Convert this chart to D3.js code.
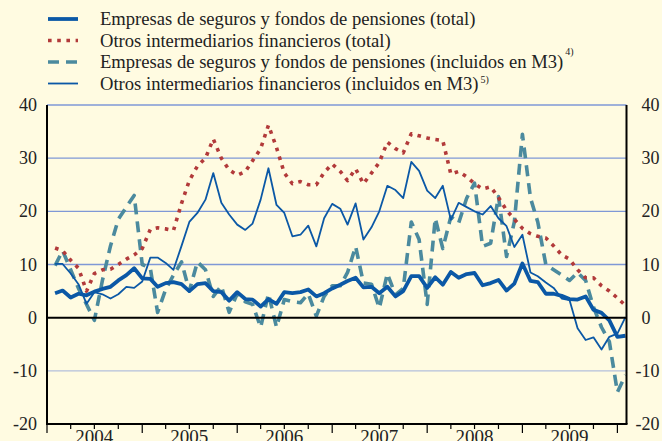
<!DOCTYPE html>
<html>
<head>
<meta charset="utf-8">
<script src="https://cdn.jsdelivr.net/npm/d3@7"></script>
<style>
  body { margin: 0; background: #fffbe1; }
  svg { display: block; font-family: "Liberation Serif", "Times New Roman", serif; }
</style>
</head>
<body>
<svg id="chart" width="662" height="441"></svg>
<script>
// monthly observations, Jan 2004 - Jan 2010 (plotted at month end)
var months = d3.timeMonth.range(new Date(2004, 1, 1), new Date(2010, 1, 2));

// Empresas de seguros y fondos de pensiones (total)
var icpfTotal = [4.6, 5.1, 3.8, 4.5, 4.2, 4.9, 5.4, 5.8, 7.0, 8.0, 9.3, 7.4,
  7.3, 5.8, 6.5, 6.7, 6.3, 5.0, 6.3, 6.5, 5.0, 4.8, 3.2, 4.8,
  3.5, 3.4, 2.1, 3.5, 2.6, 4.8, 4.6, 4.8, 5.3, 4.0, 4.6, 5.5,
  6.2, 6.9, 7.5, 5.7, 5.8, 4.6, 5.8, 4.0, 5.0, 7.8, 7.8, 5.6,
  7.6, 6.2, 8.6, 7.5, 8.2, 8.4, 6.1, 6.5, 7.1, 5.1, 6.4, 10.2,
  6.9, 6.7, 4.5, 4.5, 4.1, 3.5, 3.4, 4.0, 1.5, 0.9, -0.5, -3.6, -3.4];

// Otros intermediarios financieros (total)
var ofiTotal = [13.1, 12.6, 10.8, 9.3, 5.0, 8.3, 9.0, 9.1, 10.0, 11.0, 11.8, 13.0,
  16.6, 16.9, 16.7, 16.4, 21.5, 25.8, 28.5, 30.0, 33.6, 30.0, 27.8, 26.8,
  27.5, 29.5, 31.8, 36.2, 32.0, 27.2, 25.2, 25.6, 25.0, 25.0, 27.3, 28.9,
  27.5, 25.8, 28.0, 25.2, 27.2, 29.2, 33.0, 31.8, 31.0, 34.6, 34.2, 33.8,
  33.5, 33.3, 27.0, 27.5, 26.5, 25.2, 24.2, 24.6, 22.6, 20.2, 18.5, 16.8,
  15.8, 15.3, 15.0, 13.5, 11.8, 11.0, 9.0, 7.5, 7.5, 6.0, 5.0, 3.7, 2.3];

// Empresas de seguros y fondos de pensiones (incluidos en M3)
var icpfM3 = [9.8, 12.6, 9.0, 5.5, 2.5, -0.5, 7.0, 13.5, 18.5, 20.8, 23.0, 10.0,
  9.3, 1.0, 5.3, 8.0, 10.5, 5.0, 10.5, 9.0, 4.0, 6.0, 1.0, 4.5,
  3.0, 2.5, -1.8, 4.5, -1.8, 3.4, 3.0, 2.8, 4.5, 0.3, 4.0, 6.0,
  6.0, 8.5, 13.4, 6.5, 6.3, 1.8, 8.3, 4.3, 5.5, 18.0, 14.7, 2.5,
  18.7, 13.0, 19.0, 17.8, 22.5, 25.3, 13.4, 14.0, 22.8, 11.5, 18.0, 34.5,
  22.5, 18.0, 10.0, 9.0, 8.0, 7.0, 8.5, 7.0, 2.0, -1.8, -4.5, -14.0, -10.8];

// Otros intermediarios financieros (incluidos en M3)
var ofiM3 = [10.1, 10.1, 8.3, 6.3, 2.6, 4.8, 4.4, 3.6, 4.4, 5.8, 5.6, 6.8,
  11.3, 11.3, 10.3, 9.0, 13.5, 18.0, 19.7, 22.2, 27.2, 21.6, 19.4, 17.5,
  16.5, 17.7, 22.2, 28.1, 21.2, 19.7, 15.3, 15.6, 17.3, 13.4, 18.7, 21.4,
  20.5, 17.5, 21.5, 14.7, 17.0, 20.0, 24.8, 24.0, 22.5, 29.3, 27.6, 23.9,
  22.5, 24.8, 18.4, 21.6, 20.8, 20.0, 19.4, 21.0, 18.7, 17.2, 13.3, 15.6,
  8.5, 7.8, 6.6, 5.6, 3.6, 3.3, -2.0, -4.2, -3.7, -6.0, -3.6, -3.0, 0.1];

var yTicks = [40, 30, 20, 10, 0, -10, -20];
var yearLabels = ["2004", "2005", "2006", "2007", "2008", "2009"];
var legendLabels = [
  "Empresas de seguros y fondos de pensiones (total)",
  "Otros intermediarios financieros (total)",
  "Empresas de seguros y fondos de pensiones (incluidos en M3)",
  "Otros intermediarios financieros (incluidos en M3)"
];
var legendNotes = ["", "", "4)", "5)"];

var series = [
  { values: icpfM3, color: "#4b8a9e", width: 3.6, dash: "11,7" },
  { values: ofiTotal, color: "#b23a3a", width: 3.6, dash: "3.6,5.6" },
  { values: ofiM3, color: "#0b58a6", width: 1.8, dash: null },
  { values: icpfTotal, color: "#0b58a6", width: 3.8, dash: null }
];
var legendOrder = [3, 1, 0, 2];

var svg = d3.select("#chart");
var plotLeft = 47, plotRight = 626.5, plotTop = 105, plotBottom = 424;

var x = d3.scaleTime()
  .domain([new Date(2004, 0, 1), new Date(2010, 1, 5)])
  .range([plotLeft, plotRight]);
var y = d3.scaleLinear().domain([-20, 40]).range([plotBottom, plotTop]);

// background
svg.append("rect").attr("width", 662).attr("height", 441).attr("fill", "#fffbe1");

// grid
svg.selectAll(".grid")
  .data(yTicks.filter(function (d) { return d !== 0 && d !== -20; }))
  .enter().append("line")
  .attr("class", "grid")
  .attr("x1", plotLeft).attr("x2", plotRight)
  .attr("y1", function (d) { return y(d); })
  .attr("y2", function (d) { return y(d); })
  .attr("stroke", function (d) { return d > 0 ? "#7f98d6" : "#b3bfdb"; })
  .attr("stroke-width", 1.3);

// series
var line = d3.line()
  .x(function (d, i) { return x(months[i]); })
  .y(function (d) { return y(d); });

series.forEach(function (s) {
  svg.append("path")
    .datum(s.values)
    .attr("d", line)
    .attr("fill", "none")
    .attr("stroke", s.color)
    .attr("stroke-width", s.width)
    .attr("stroke-linejoin", "round")
    .attr("stroke-dasharray", s.dash);
});

// axes frame
svg.append("line").attr("x1", plotLeft).attr("x2", plotRight)
  .attr("y1", y(0)).attr("y2", y(0)).attr("stroke", "#000").attr("stroke-width", 2);
svg.append("line").attr("x1", plotLeft - 1).attr("x2", plotRight + 1)
  .attr("y1", plotBottom).attr("y2", plotBottom).attr("stroke", "#000").attr("stroke-width", 2);
svg.append("line").attr("x1", plotLeft).attr("x2", plotLeft)
  .attr("y1", plotTop).attr("y2", plotBottom).attr("stroke", "#000").attr("stroke-width", 2);
svg.append("line").attr("x1", plotRight).attr("x2", plotRight)
  .attr("y1", plotTop).attr("y2", plotBottom).attr("stroke", "#000").attr("stroke-width", 2);

// x ticks (quarters, longer at year start)
var quarters = d3.timeMonth.every(3).range(new Date(2004, 0, 1), new Date(2010, 0, 2));
svg.selectAll(".xtick")
  .data(quarters).enter().append("line")
  .attr("x1", function (d) { return x(d); })
  .attr("x2", function (d) { return x(d); })
  .attr("y1", plotBottom)
  .attr("y2", function (d) { return plotBottom + (d.getMonth() === 0 ? 9 : 5); })
  .attr("stroke", "#000").attr("stroke-width", 1.2);

svg.selectAll(".year")
  .data(yearLabels).enter().append("text")
  .attr("x", function (d) { return x(new Date(+d, 6, 1)); })
  .attr("y", 443)
  .attr("text-anchor", "middle")
  .attr("font-size", 19)
  .attr("fill", "#222")
  .text(function (d) { return d; });

// y labels
svg.selectAll(".ylabL")
  .data(yTicks).enter().append("text")
  .attr("x", 37)
  .attr("y", function (d) { return y(d); })
  .attr("dy", "0.34em")
  .attr("text-anchor", "end")
  .attr("font-size", 18)
  .attr("fill", "#222")
  .text(function (d) { return d; });

svg.selectAll(".ylabR")
  .data(yTicks).enter().append("text")
  .attr("x", function (d) { return d < 0 ? 635.5 : 641.5; })
  .attr("y", function (d) { return y(d); })
  .attr("dy", "0.34em")
  .attr("font-size", 18)
  .attr("fill", "#222")
  .text(function (d) { return d; });

// legend
var legend = svg.selectAll(".legend")
  .data(legendOrder).enter().append("g")
  .attr("transform", function (d, i) { return "translate(0," + (19 + i * 21.5) + ")"; });

legend.append("line")
  .attr("x1", 48).attr("x2", 78)
  .attr("y1", 0).attr("y2", 0)
  .attr("stroke", function (d) { return series[d].color; })
  .attr("stroke-width", function (d) { return series[d].width; })
  .attr("stroke-dasharray", function (d) { return series[d].dash; });

legend.append("text")
  .attr("x", 100).attr("y", 6)
  .attr("font-size", 18.6)
  .attr("fill", "#222")
  .text(function (d, i) { return legendLabels[i]; });

legend.append("text")
  .attr("x", function (d, i) {
    var t = d3.select(this.parentNode).select("text").node();
    return 100 + t.getComputedTextLength() + 2;
  })
  .attr("y", function (d, i) { return i === 2 ? -7 : -0.5; })
  .attr("font-size", 10)
  .attr("fill", "#222")
  .text(function (d, i) { return legendNotes[i]; });
</script>
</body>
</html>
